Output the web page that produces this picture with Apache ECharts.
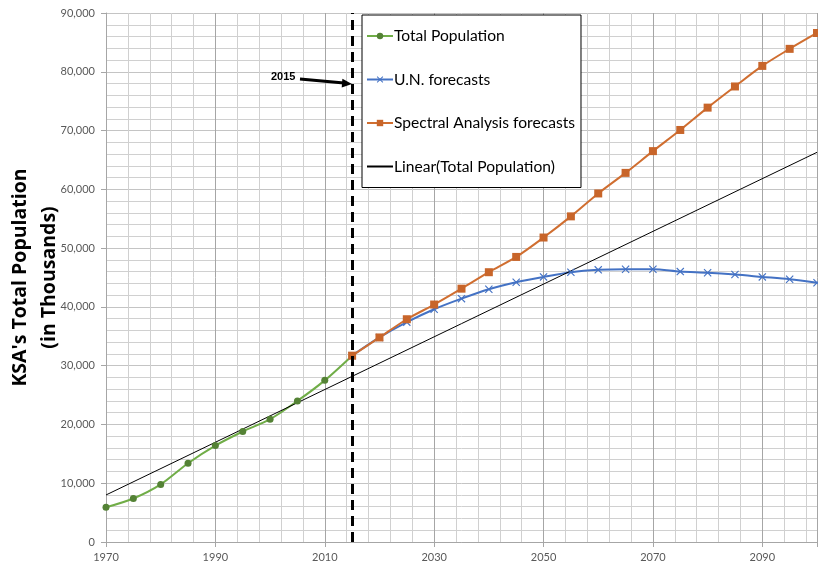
<!DOCTYPE html>
<html>
<head>
<meta charset="utf-8">
<script src="https://cdn.jsdelivr.net/npm/echarts/dist/echarts.min.js"></script>
<style>html,body{margin:0;padding:0;background:#fff}#c{width:818px;height:567px}</style>
</head>
<body>
<div id="c"></div>
<script>
// ---- data ----
const histYears = [1970, 1975, 1980, 1985, 1990, 1995, 2000, 2005, 2010, 2015];
const totalPopulation = [5900, 7400, 9800, 13400, 16400, 18800, 20900, 24000, 27500, 31700];
const forecastYears = [2015, 2020, 2025, 2030, 2035, 2040, 2045, 2050, 2055, 2060, 2065, 2070, 2075, 2080, 2085, 2090, 2095, 2100];
const unForecasts = [31700, 34800, 37400, 39600, 41400, 43000, 44200, 45100, 45900, 46300, 46400, 46400, 46000, 45800, 45500, 45100, 44700, 44100];
const spectralForecasts = [31700, 34800, 37900, 40400, 43100, 45900, 48500, 51800, 55400, 59300, 62800, 66500, 70100, 73900, 77500, 81000, 83900, 86600];
const trendYears = [1970, 2100];
const trendValues = [8000, 66300];
const markYear = 2015;
const seriesNames = ['Total Population', 'U.N. forecasts', 'Spectral Analysis forecasts', 'Linear(Total Population)'];
const yTitle = "KSA's Total Population\n(in Thousands)";

const pairs = (xs, ys) => xs.map((x, i) => [x, ys[i]]);
const xMark = 'path://M0,1L1,0L5,4L9,0L10,1L6,5L10,9L9,10L5,6L1,10L0,9L4,5Z';

const chart = echarts.init(document.getElementById('c'), null, {renderer: 'canvas'});
chart.setOption({
  animation: false,
  backgroundColor: '#fff',
  grid: {left: 106, right: 1, top: 13, bottom: 25, containLabel: false, outerBoundsMode: 'none'},
  legend: {
    orient: 'vertical',
    left: 362, top: 15,
    padding: [12, 6, 12, 4],
    itemGap: 25.5,
    itemWidth: 26, itemHeight: 8,
    backgroundColor: '#fff',
    borderColor: '#000', borderWidth: 1,
    textStyle: {fontFamily: 'Lato', fontSize: 15.6, color: '#000', lineHeight: 18, padding: [0, 0, 0, -4]},
    data: [seriesNames[0], seriesNames[1], seriesNames[2],
      {name: seriesNames[3], itemStyle: {color: 'transparent', borderWidth: 0}}]
  },
  xAxis: {
    type: 'value', min: 1970, max: 2100, interval: 20,
    axisLine: {show: true, lineStyle: {color: '#a6a6a6'}},
    axisTick: {show: true, length: 5, lineStyle: {color: '#a6a6a6'}},
    axisLabel: {color: '#595959', fontFamily: 'Lato', fontSize: 11, margin: 10,
      formatter: v => v === 2100 ? '' : String(v)},
    splitLine: {show: true, lineStyle: {color: '#a6a6a6'}},
    minorTick: {show: false, splitNumber: 5},
    minorSplitLine: {show: true, lineStyle: {color: '#d0d0d0'}}
  },
  yAxis: {
    type: 'value', min: 0, max: 90000, interval: 10000,
    name: yTitle, nameLocation: 'middle', nameRotate: 90, nameGap: 42,
    nameMoveOverlap: false,
    nameTextStyle: {fontFamily: 'Open Sans', fontWeight: 'bold', fontSize: 19.5, color: '#000', lineHeight: 29, align: 'center'},
    axisLine: {show: true, lineStyle: {color: '#a6a6a6'}},
    axisTick: {show: true, length: 5, lineStyle: {color: '#a6a6a6'}},
    axisLabel: {color: '#595959', fontFamily: 'Lato', fontSize: 11, margin: 11,
      formatter: v => v.toLocaleString('en-US')},
    splitLine: {show: true, lineStyle: {color: '#c4c4c4'}},
    minorTick: {show: false, splitNumber: 5},
    minorSplitLine: {show: true, lineStyle: {color: '#d0d0d0'}}
  },
  series: [
    {
      name: seriesNames[0], type: 'line', smooth: 0.3,
      data: pairs(histYears, totalPopulation),
      symbol: 'circle', symbolSize: 7,
      itemStyle: {color: '#548235'},
      lineStyle: {color: '#70AD47', width: 2}
    },
    {
      name: seriesNames[1], type: 'line', smooth: 0.3,
      data: pairs(forecastYears, unForecasts),
      symbol: xMark, symbolSize: 8,
      itemStyle: {color: '#4472C4'},
      lineStyle: {color: '#4472C4', width: 2}
    },
    {
      name: seriesNames[2], type: 'line', smooth: 0.3,
      data: pairs(forecastYears, spectralForecasts),
      symbol: 'rect', symbolSize: 8,
      itemStyle: {color: '#C8652A'},
      lineStyle: {color: '#D06E30', width: 2}
    },
    {
      name: seriesNames[3], type: 'line',
      data: pairs(trendYears, trendValues),
      symbol: 'none',
      itemStyle: {color: '#000'},
      lineStyle: {color: '#000', width: 1},
      markLine: {
        silent: true, symbol: ['none', 'none'],
        label: {show: false},
        lineStyle: {color: '#000', width: 3, type: [10, 6]},
        data: [{xAxis: markYear}]
      }
    }
  ],
  graphic: [
    {type: 'text', left: 271, top: 71, z: 100,
     style: {text: String(markYear), font: 'bold 11px "Liberation Sans"', fill: '#000'}},
    {type: 'line', z: 100, shape: {x1: 300, y1: 79, x2: 344, y2: 83},
     style: {stroke: '#000', lineWidth: 3}},
    {type: 'polygon', z: 100, shape: {points: [[352, 84], [342.4, 78.7], [341.7, 87.6]]},
     style: {fill: '#000'}}
  ]
});
</script>
</body>
</html>
